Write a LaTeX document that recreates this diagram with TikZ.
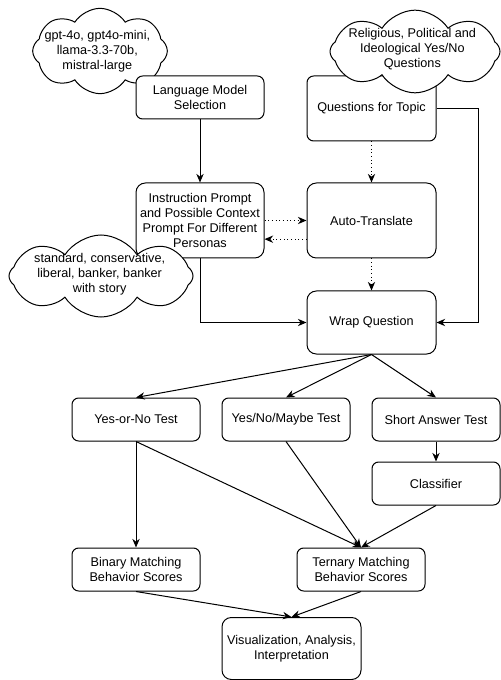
\documentclass[tikz,border=0pt]{standalone}
\usepackage{fontspec}
\setmainfont{Liberation Sans}
\usetikzlibrary{shapes.symbols, arrows.meta}

\tikzset{
    box/.style={draw, fill=white, rounded corners=5pt, align=center, inner sep=1pt,
        minimum width=96pt, minimum height=32.25pt, line width=0.75pt},
    tallbox/.style={box, rounded corners=7pt},
    thought/.style={draw, fill=white, cloud, cloud puffs=8, cloud puff arc=115,
        cloud ignores aspect, inner sep=0pt, line width=0.75pt},
    flow/.style={->, line width=0.75pt},
    hint/.style={flow, dotted},
}

\begin{document}
\begin{tikzpicture}[x=0.75pt, y=-0.75pt, >={Stealth[length=6.5pt, width=5.5pt]},
    font=\fontsize{9.5}{11.25}\selectfont]
    \useasboundingbox (0,0) rectangle (500,680);
    % Models and questions
    \node[thought, minimum width=101pt, minimum height=64pt,
        label={[align=center, xshift=-2pt]center:gpt-4o, gpt4o-mini,\\llama-3.3-70b,\\mistral-large}] (models) at (100,51) {};
    \node[box] (lms) at (200,97.5) {Language Model\\Selection};
    \node[box, minimum width=96.75pt, minimum height=48.75pt] (qft) at (371.5,108.5) {Questions for Topic};
    \node[thought, minimum width=127.5pt, minimum height=62pt,
        label={[align=center, xshift=-2pt, yshift=2pt]center:Religious, Political and\\Ideological Yes/No\\Questions}] (topics) at (415,51.5) {};
    % Prompts
    \node[tallbox, minimum height=56.25pt] (ip) at (200,220.5) {Instruction Prompt\\and Possible Context\\Prompt For Different\\Personas};
    \node[thought, minimum width=138pt, minimum height=61.5pt,
        label={[align=center, xshift=-1pt, yshift=1.5pt]center:standard, conservative,\\liberal, banker, banker\\with story}] (personas) at (101,276) {};
    \node[tallbox, minimum width=96.75pt, minimum height=56.25pt] (at) at (371.5,220.5) {Auto-Translate};
    \node[tallbox, minimum width=96.75pt, minimum height=47.25pt] (wq) at (371.5,322.5) {Wrap Question};
    % Tests
    \node[box] (yn) at (136,419.5) {Yes-or-No Test};
    \node[box] (ynm) at (286,419.5) {Yes/No/Maybe Test};
    \node[box] (sa) at (436,419.5) {Short Answer Test};
    \node[box] (cls) at (436,483.5) {Classifier};
    % Scores
    \node[box] (bin) at (136,569.5) {Binary Matching\\Behavior Scores};
    \node[box] (ter) at (361,569.5) {Ternary Matching\\Behavior Scores};
    \node[tallbox, minimum width=104.25pt, minimum height=46.5pt] (vis) at (291.5,648.5) {Visualization, Analysis,\\Interpretation};
    % Arrows
    \draw[flow] (lms) -- (ip);
    \draw[flow] (qft.east) -- ++(42,0) |- (wq.east);
    \draw[hint] (qft) -- (at);
    \draw[hint] (ip.east) -- (at.west);
    \draw[hint] ([yshift=-14pt]at.west) -- ([yshift=-14pt]ip.east);
    \draw[hint] (at) -- (wq);
    \draw[flow] (ip.south) |- (wq.west);
    \foreach \t in {yn, ynm, sa} {
        \draw[flow] (wq.south) -- (\t.north);
    }
    \draw[flow] (yn) -- (bin);
    \draw[flow] (sa) -- (cls);
    \foreach \s in {yn, ynm, cls} {
        \draw[flow] (\s.south) -- (ter.north);
    }
    \foreach \s in {bin, ter} {
        \draw[flow] (\s.south) -- (vis.north);
    }
\end{tikzpicture}
\end{document}
